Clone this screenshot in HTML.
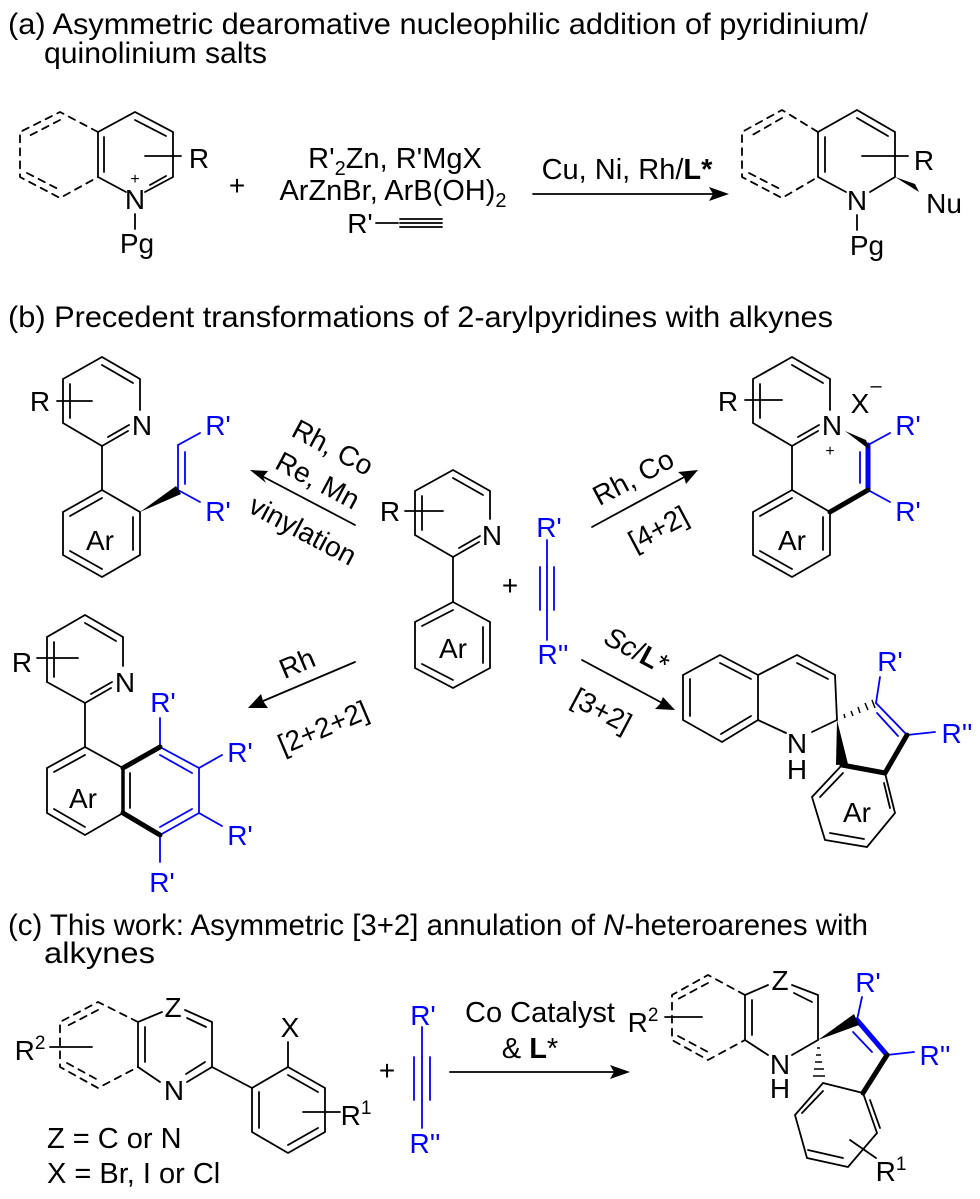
<!DOCTYPE html>
<html><head><meta charset="utf-8"><style>
html,body{margin:0;padding:0;background:#fff;}
svg{display:block;font-family:"Liberation Sans",Arial,sans-serif;}
</style></head><body>
<svg width="980" height="1199" viewBox="0 0 980 1199" xmlns="http://www.w3.org/2000/svg">
<g fill="#000" font-size="30">
<text x="8" y="34" textLength="860" lengthAdjust="spacingAndGlyphs">(a) Asymmetric dearomative nucleophilic addition of pyridinium/</text>
<text x="44" y="63" textLength="223" lengthAdjust="spacingAndGlyphs">quinolinium salts</text>
<text x="8" y="327" textLength="825" lengthAdjust="spacingAndGlyphs">(b) Precedent transformations of 2-arylpyridines with alkynes</text>
<text x="8" y="935" textLength="860" lengthAdjust="spacingAndGlyphs">(c) This work: Asymmetric [3+2] annulation of <tspan font-style="italic">N</tspan>-heteroarenes with</text>
<text x="44" y="963" textLength="111" lengthAdjust="spacingAndGlyphs">alkynes</text>
</g>

<g stroke="#000" stroke-width="1.8" fill="none" stroke-linecap="round">
<polyline points="98,132 135,112 173,132 173,177 145,192"/>
<polyline points="126,192 98,177 98,132"/>
<line x1="135" y1="120" x2="166" y2="136"/>
<line x1="166" y1="176" x2="150" y2="185"/>
<line x1="104" y1="137" x2="104" y2="172"/>
<line x1="135" y1="214" x2="135" y2="229"/>
<line x1="145" y1="156" x2="181" y2="156"/>
<polyline points="98,132 60,112 20,132 20,177 60,198 98,177" stroke-dasharray="7,6"/>
<line x1="60" y1="120" x2="27" y2="137" stroke-dasharray="7,6"/>
<line x1="27" y1="173" x2="60" y2="190" stroke-dasharray="7,6"/>
<line x1="376" y1="223" x2="398" y2="223"/>
<line x1="400" y1="219" x2="442" y2="219"/><line x1="400" y1="223" x2="442" y2="223"/><line x1="400" y1="227" x2="442" y2="227"/>
<line x1="533" y1="194" x2="715" y2="194"/>
<polyline points="818,132 857,110 895,132 895,177 870,192"/>
<polyline points="846,192 818,177 818,132"/>
<line x1="857" y1="118" x2="888" y2="136"/>
<line x1="825" y1="137" x2="825" y2="172"/>
<line x1="857" y1="215" x2="857" y2="230"/>
<line x1="862" y1="156" x2="908" y2="156"/>
<polyline points="818,132 782,110 742,132 742,177 782,198 818,177" stroke-dasharray="7,6"/>
<line x1="782" y1="118" x2="749" y2="137" stroke-dasharray="7,6"/>
<line x1="749" y1="173" x2="782" y2="190" stroke-dasharray="7,6"/>

<polyline points="140,410 140,379 102,357 63,379 63,423 102,446 128,431"/>
<line x1="102" y1="365" x2="133" y2="383"/>
<line x1="70" y1="384" x2="70" y2="418"/>
<line x1="108" y1="437" x2="129" y2="425"/>
<line x1="57" y1="401" x2="92" y2="401"/>
<line x1="102" y1="446" x2="102" y2="490"/>
<polygon points="102,490 140,512 140,555 102,577 63,555 63,512"/>
<line x1="70" y1="516" x2="102" y2="498"/>
<line x1="133" y1="517" x2="133" y2="550"/>
<line x1="102" y1="569" x2="70" y2="551"/>
<line x1="355" y1="525" x2="258" y2="474"/>
<polyline points="490,519 490,491 453,470 415,491 415,535 453,557 479,542"/>
<line x1="453" y1="478" x2="483" y2="495"/>
<line x1="422" y1="496" x2="422" y2="530"/>
<line x1="459" y1="548" x2="480" y2="536"/>
<line x1="405" y1="511" x2="443" y2="511"/>
<line x1="453" y1="557" x2="453" y2="602"/>
<polygon points="453,602 490,622 490,668 453,688 415,668 415,622"/>
<line x1="422" y1="626" x2="453" y2="610"/>
<line x1="483" y1="627" x2="483" y2="663"/>
<line x1="453" y1="680" x2="422" y2="664"/>
<polyline points="830,410 830,379 792,357 753,379 753,423 792,446 818,431"/>
<line x1="792" y1="365" x2="823" y2="383"/>
<line x1="760" y1="384" x2="760" y2="418"/>
<line x1="798" y1="437" x2="819" y2="425"/>
<line x1="745" y1="400" x2="782" y2="400"/>
<line x1="792" y1="446" x2="792" y2="490"/>
<polygon points="792,490 830,512 830,555 792,577 753,555 753,512"/>
<line x1="760" y1="516" x2="792" y2="498"/>
<line x1="823" y1="517" x2="823" y2="550"/>
<line x1="792" y1="569" x2="760" y2="551"/>
<line x1="592" y1="527" x2="688" y2="475"/>
<line x1="582" y1="660" x2="666" y2="705"/>
<polyline points="123,666 123,637 85,615 47,637 47,682 85,703 111,688"/>
<line x1="85" y1="623" x2="116" y2="641"/>
<line x1="54" y1="642" x2="54" y2="677"/>
<line x1="91" y1="694" x2="112" y2="682"/>
<line x1="37" y1="658" x2="78" y2="658"/>
<line x1="85" y1="703" x2="85" y2="747"/>
<polyline points="123,768 85,747 47,768 47,813 85,835 123,813"/>
<line x1="54" y1="772" x2="85" y2="755"/>
<line x1="130" y1="773" x2="130" y2="808"/>
<line x1="85" y1="827" x2="54" y2="809"/>
<line x1="355" y1="662" x2="256" y2="704"/>
<polygon points="720,655 758,675 758,720 722,742 683,720 683,675"/>
<line x1="720" y1="663" x2="751" y2="679"/>
<line x1="751" y1="716" x2="721" y2="734"/>
<line x1="690" y1="679" x2="690" y2="716"/>
<polyline points="758,675 797,655 835,675 837,720 812,732"/>
<line x1="797" y1="663" x2="828" y2="679"/>
<line x1="758" y1="720" x2="786" y2="733"/>
<polyline points="885,773 895,813 867,847 825,840 812,797 842,765"/>
<line x1="884" y1="783" x2="890" y2="808"/>
<line x1="864" y1="839" x2="830" y2="833"/>
<line x1="820" y1="797" x2="843" y2="773"/>
<polyline points="162,1012 138,1022 138,1067 160,1082"/>
<line x1="145" y1="1027" x2="145" y2="1062"/>
<polyline points="185,1010 212,1022 212,1067 187,1082"/>
<line x1="187" y1="1018" x2="206" y2="1027"/>
<line x1="205" y1="1062" x2="186" y2="1074"/>
<polyline points="138,1022 98,1002 60,1022 60,1067 98,1088 138,1067" stroke-dasharray="7,6"/>
<line x1="98" y1="1010" x2="67" y2="1026" stroke-dasharray="7,6"/>
<line x1="67" y1="1063" x2="98" y2="1080" stroke-dasharray="7,6"/>
<line x1="50" y1="1047" x2="92" y2="1047"/>
<line x1="212" y1="1067" x2="252" y2="1088"/>
<polygon points="252,1088 288,1067 325,1088 325,1132 288,1153 252,1132"/>
<line x1="288" y1="1075" x2="318" y2="1092"/>
<line x1="318" y1="1128" x2="288" y2="1145"/>
<line x1="259" y1="1128" x2="259" y2="1092"/>
<line x1="288" y1="1067" x2="288" y2="1042"/>
<line x1="303" y1="1112" x2="340" y2="1112"/>
<line x1="450" y1="1072" x2="618" y2="1072"/>
<polyline points="768,985 745,995 745,1040 768,1055"/>
<line x1="752" y1="1000" x2="752" y2="1035"/>
<polyline points="792,985 818,995 818,1040 792,1055"/>
<line x1="794" y1="993" x2="812" y2="1002"/>
<polyline points="745,995 708,975 672,995 672,1040 708,1060 745,1040" stroke-dasharray="7,6"/>
<line x1="708" y1="983" x2="678" y2="999" stroke-dasharray="7,6"/>
<line x1="678" y1="1036" x2="708" y2="1052" stroke-dasharray="7,6"/>
<line x1="665" y1="1017" x2="702" y2="1017"/>
<polyline points="863,1093 877,1133 848,1167 807,1158 795,1115 823,1083 863,1093"/>
<line x1="870" y1="1100" x2="880" y2="1128"/>
<line x1="808" y1="1150" x2="843" y2="1158"/>
<line x1="802" y1="1113" x2="823" y2="1091"/>
<line x1="850" y1="1140" x2="876" y2="1158"/>
</g>

<g stroke="#0000ff" stroke-width="1.8" fill="none" stroke-linecap="round">
<line x1="178" y1="490" x2="178" y2="445"/>
<line x1="185" y1="484" x2="185" y2="452"/>
<line x1="178" y1="445" x2="200" y2="433"/>
<line x1="178" y1="490" x2="200" y2="502"/>
<line x1="547" y1="540" x2="547" y2="567"/>
<line x1="540" y1="567" x2="540" y2="610"/><line x1="547" y1="567" x2="547" y2="610"/><line x1="554" y1="567" x2="554" y2="610"/>
<line x1="547" y1="610" x2="547" y2="640"/>
<line x1="860" y1="452" x2="860" y2="483"/>
<line x1="868" y1="445" x2="890" y2="433"/>
<line x1="868" y1="490" x2="890" y2="502"/>
<polyline points="160,747 199,768 199,813 160,835"/>
<line x1="160" y1="755" x2="192" y2="773"/>
<line x1="192" y1="809" x2="160" y2="827"/>
<line x1="160" y1="747" x2="160" y2="718"/>
<line x1="199" y1="768" x2="222" y2="755"/>
<line x1="199" y1="813" x2="222" y2="826"/>
<line x1="160" y1="835" x2="160" y2="862"/>
<line x1="876" y1="703" x2="907" y2="735"/>
<line x1="877" y1="713" x2="898" y2="736"/>
<line x1="876" y1="703" x2="880" y2="677"/>
<line x1="907" y1="735" x2="935" y2="732"/>
<line x1="422" y1="1027" x2="422" y2="1057"/>
<line x1="414" y1="1057" x2="414" y2="1100"/><line x1="422" y1="1057" x2="422" y2="1100"/><line x1="430" y1="1057" x2="430" y2="1100"/>
<line x1="422" y1="1100" x2="422" y2="1128"/>
<line x1="853" y1="1032" x2="872" y2="1052"/>
<line x1="857" y1="1020" x2="862" y2="997"/>
<line x1="887" y1="1055" x2="914" y2="1052"/>
</g>
<g stroke="#0000ff" stroke-width="5" stroke-linecap="round">
<line x1="868" y1="445" x2="868" y2="490"/>
<line x1="857" y1="1020" x2="887" y2="1055"/>
</g>
<g stroke="#000" stroke-width="5" stroke-linecap="round">
<line x1="868" y1="490" x2="830" y2="512"/>
<line x1="123" y1="768" x2="160" y2="747"/>
<line x1="123" y1="813" x2="160" y2="835"/>
<line x1="123" y1="768" x2="123" y2="813" stroke-width="3.5"/>
<line x1="842" y1="765" x2="885" y2="773"/>
<line x1="885" y1="773" x2="907" y2="735"/>
<line x1="887" y1="1055" x2="863" y2="1093"/>
</g>
<g fill="#000" stroke="none">
<polygon points="895,177 915,184 919,192"/>
<polygon points="140,512 176,486 181,494"/>
<polygon points="845,431 866,440 870,450"/>
<polygon points="837,720 836,765 848,764"/>
<polygon points="818,1040 854,1014 859,1025"/>
<polygon points="729,194 709,187 713,194 709,201"/>
<polygon points="250,470 268,471 263,477 266,483"/>
<polygon points="698,470 686,484 684,477 678,472"/>
<polygon points="675,710 655,709 660,704 663,697"/>
<polygon points="248,708 261,694 263,701 268,708"/>
<polygon points="630,1072 610,1065 614,1072 610,1079"/>
</g>
<g stroke="#000" stroke-width="1.5">
<line x1="844" y1="714" x2="845" y2="718"/>
<line x1="851" y1="711" x2="853" y2="716"/>
<line x1="858" y1="707" x2="860" y2="713"/>
<line x1="865" y1="703" x2="868" y2="710"/>
<line x1="872" y1="700" x2="875" y2="708"/>
<line x1="817" y1="1048" x2="820" y2="1048"/>
<line x1="816" y1="1055" x2="821" y2="1055"/>
<line x1="815" y1="1062" x2="822" y2="1062"/>
<line x1="814" y1="1069" x2="824" y2="1069"/>
<line x1="813" y1="1076" x2="825" y2="1076"/>
</g>

<g fill="#000" font-size="28" text-anchor="middle">
<text x="135" y="209">N</text>
<text x="135" y="184" font-size="16">+</text>
<text x="137" y="253">Pg</text>
<text x="199" y="168">R</text>
<text x="237" y="195">+</text>
<text x="395" y="168" font-size="29">R'<tspan font-size="20" dy="7">2</tspan><tspan dy="-7">Zn, R'MgX</tspan></text>
<text x="393" y="200" font-size="29">ArZnBr, ArB(OH)<tspan font-size="20" dy="7">2</tspan></text>
<text x="360" y="233">R'</text>
<text x="627" y="179" font-size="29">Cu, Ni, Rh/<tspan font-weight="bold">L*</tspan></text>
<text x="857" y="210">N</text>
<text x="867" y="255">Pg</text>
<text x="924" y="170">R</text>
<text x="944" y="213">Nu</text>

<text x="40" y="411">R</text>
<text x="142" y="435">N</text>
<text x="100" y="550">Ar</text>
<text x="390" y="521">R</text>
<text x="492" y="545">N</text>
<text x="453" y="658">Ar</text>
<text x="510" y="595">+</text>
<text x="728" y="411">R</text>
<text x="832" y="435">N</text>
<text x="830" y="456" font-size="16">+</text>
<text x="860" y="413">X</text>
<text x="876" y="392" font-size="20">–</text>
<text x="792" y="550">Ar</text>
<text x="22" y="672">R</text>
<text x="125" y="692">N</text>
<text x="83" y="808">Ar</text>
<text x="797" y="753">N</text>
<text x="797" y="779">H</text>
<text x="857" y="822">Ar</text>

<text x="30" y="1060">R<tspan font-size="19" dy="-11">2</tspan></text>
<text x="173" y="1017">Z</text>
<text x="174" y="1100">N</text>
<text x="290" y="1037">X</text>
<text x="356" y="1125">R<tspan font-size="19" dy="-11">1</tspan></text>
<text x="387" y="1080">+</text>
<text x="540" y="1022" font-size="29">Co Catalyst</text>
<text x="530" y="1058" font-size="29">&amp; <tspan font-weight="bold">L</tspan>*</text>
<text x="643" y="1032">R<tspan font-size="19" dy="-11">2</tspan></text>
<text x="780" y="990">Z</text>
<text x="780" y="1074">N</text>
<text x="780" y="1098">H</text>
<text x="891" y="1181">R<tspan font-size="19" dy="-11">1</tspan></text>
</g>
<g fill="#000" font-size="29" text-anchor="start">
<text x="47" y="1148">Z = C or N</text>
<text x="47" y="1183">X = Br, I or Cl</text>
</g>
<g fill="#0000ff" font-size="28" text-anchor="middle">
<text x="218" y="435">R'</text>
<text x="218" y="521">R'</text>
<text x="549" y="537">R'</text>
<text x="553" y="664">R''</text>
<text x="908" y="435">R'</text>
<text x="908" y="521">R'</text>
<text x="163" y="712">R'</text>
<text x="240" y="762">R'</text>
<text x="240" y="845">R'</text>
<text x="162" y="892">R'</text>
<text x="890" y="671">R'</text>
<text x="957" y="743">R''</text>
<text x="423" y="1025">R'</text>
<text x="425" y="1153">R''</text>
<text x="868" y="992">R'</text>
<text x="935" y="1065">R''</text>
</g>
<g fill="#000" font-size="28" text-anchor="middle">
<text x="333" y="457" transform="rotate(28 333 447)">Rh, Co</text>
<text x="318" y="490" transform="rotate(28 318 480)">Re, Mn</text>
<text x="303" y="540" transform="rotate(28 303 530)">vinylation</text>
<text x="633" y="487" transform="rotate(-28 633 477)">Rh, Co</text>
<text x="658" y="538" transform="rotate(-28 658 528)">[4+2]</text>
<text x="637" y="660" transform="rotate(28 637 650)"><tspan font-style="italic">Sc</tspan>/<tspan font-weight="bold">L</tspan>*</text>
<text x="602" y="720" transform="rotate(28 602 710)">[3+2]</text>
<text x="297" y="673" transform="rotate(-23 297 663)">Rh</text>
<text x="323" y="737" transform="rotate(-23 323 727)">[2+2+2]</text>
</g>
</svg>
</body></html>
